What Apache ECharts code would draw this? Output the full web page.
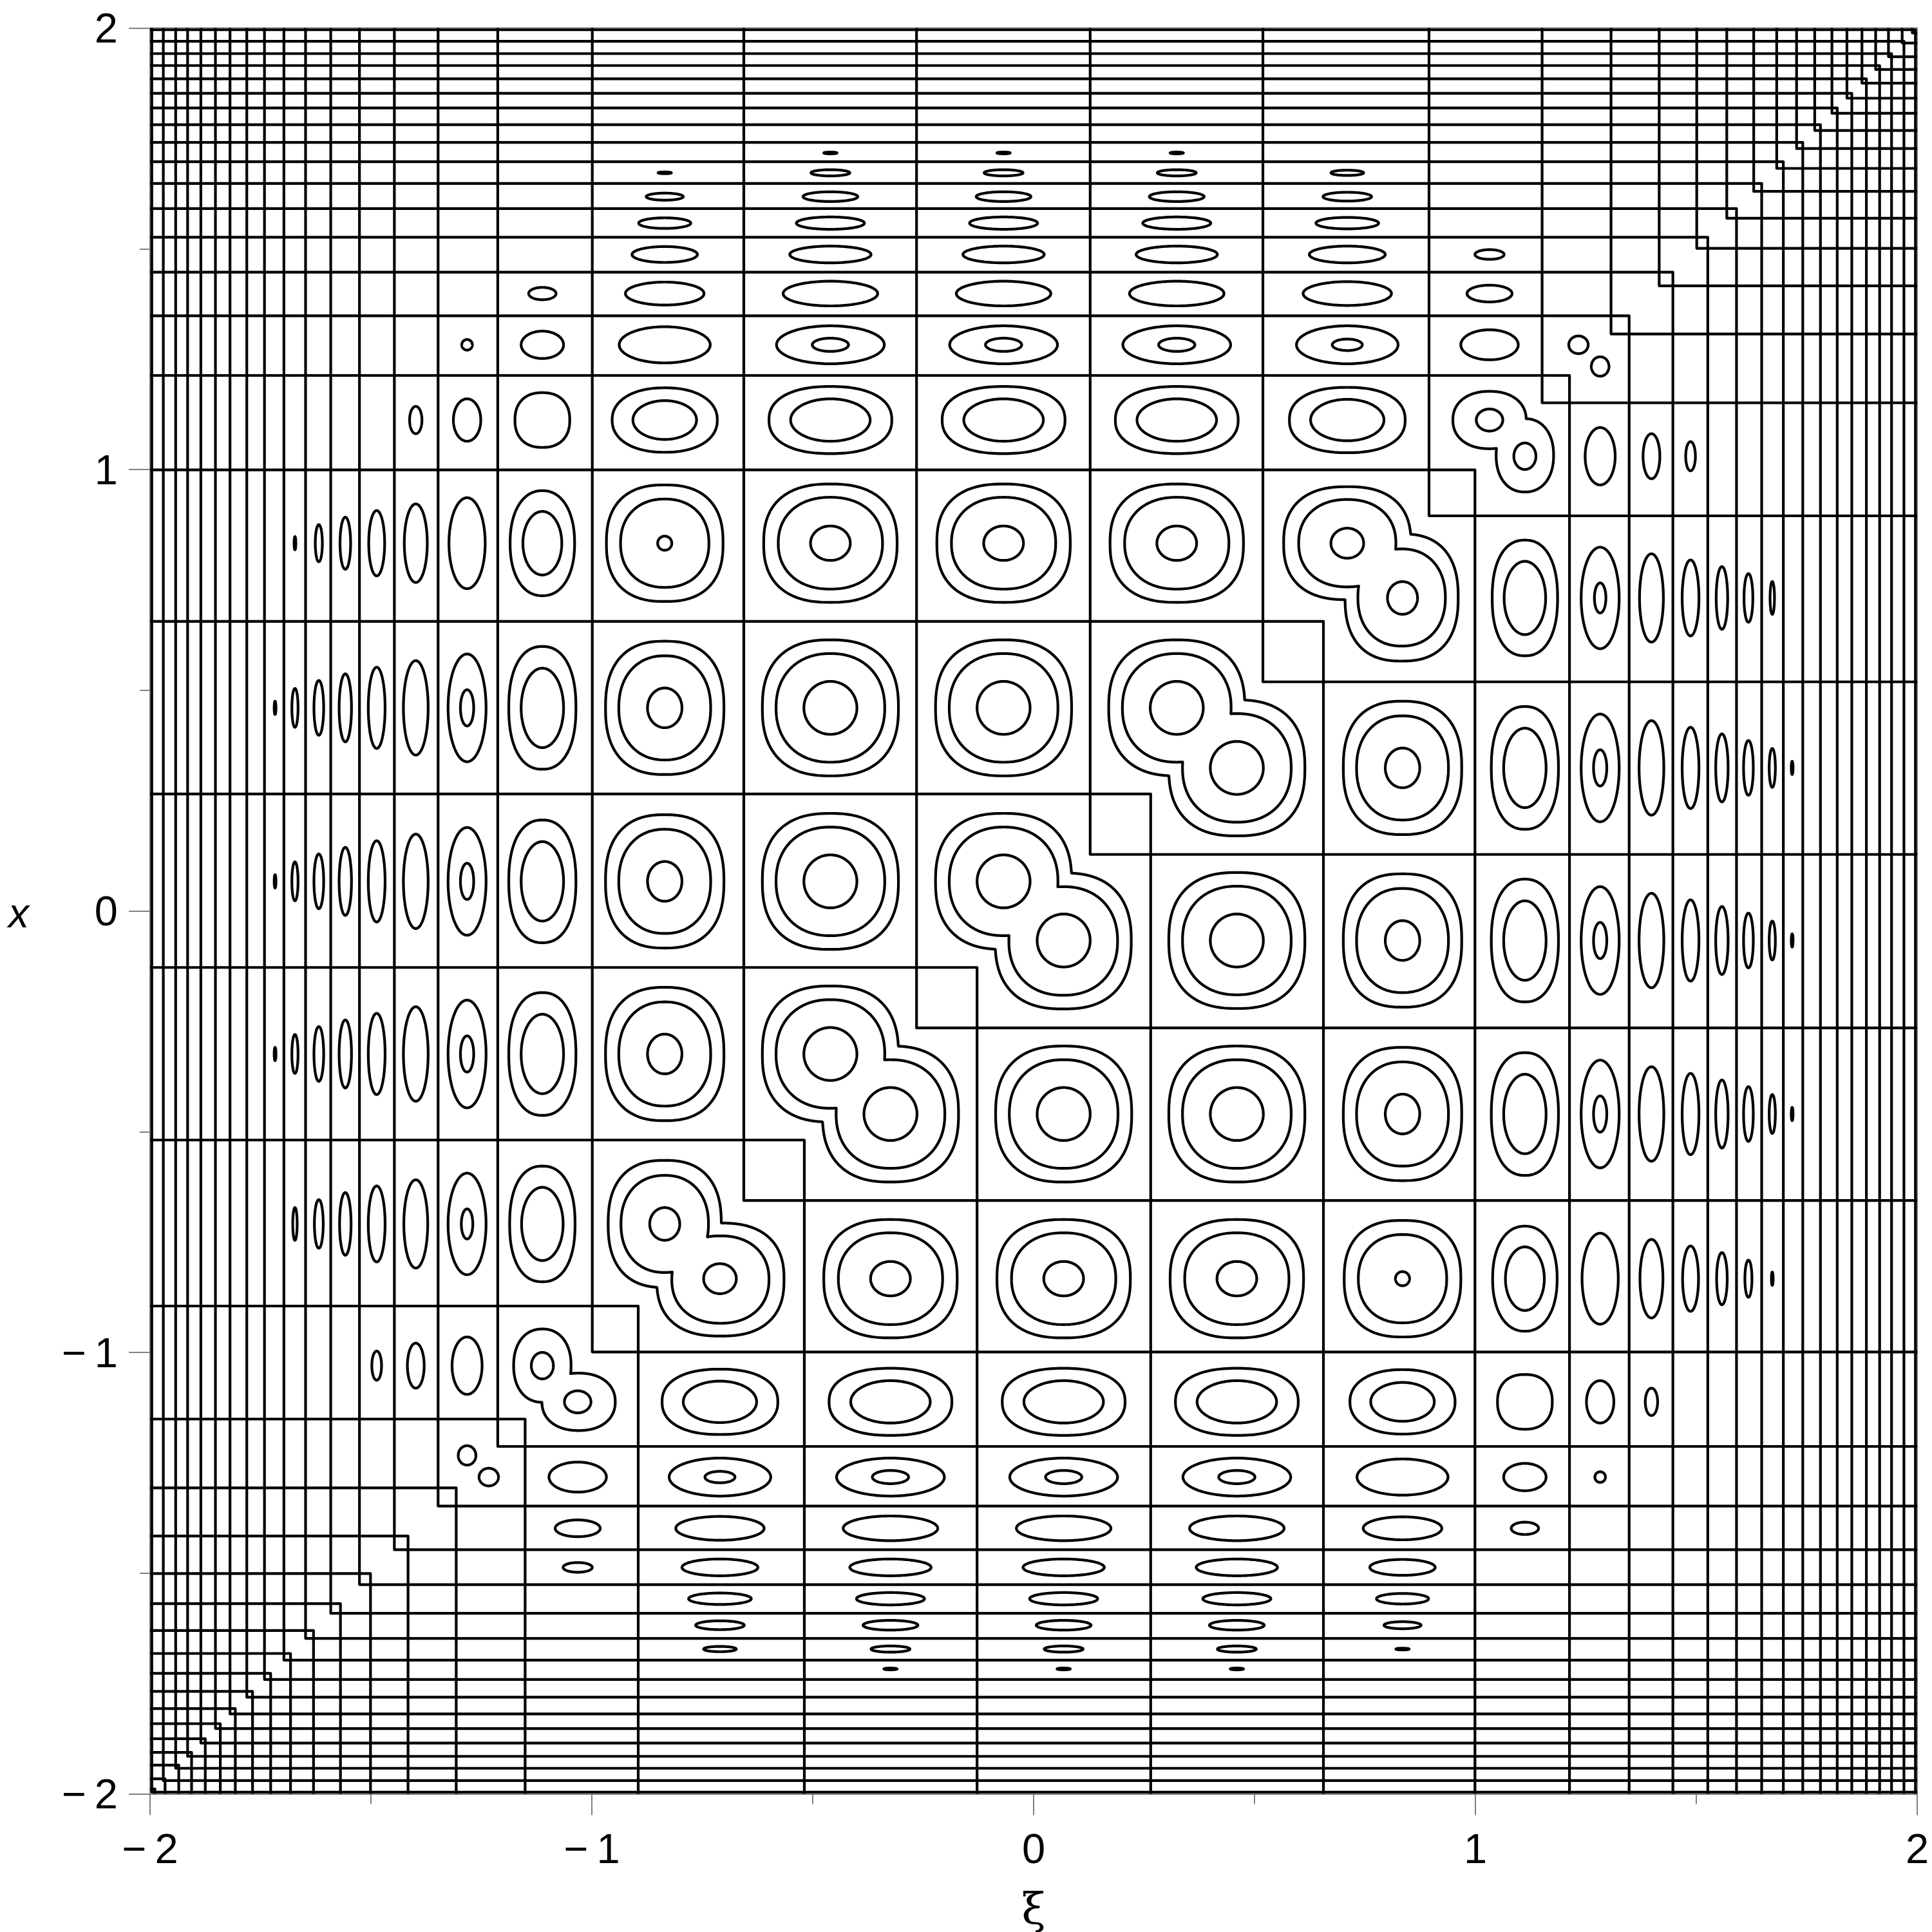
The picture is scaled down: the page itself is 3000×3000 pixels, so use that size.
<!DOCTYPE html>
<html><head><meta charset="utf-8">
<style>html,body{margin:0;padding:0;background:#fff}#c{width:3000px;height:3000px}</style>
<script src="https://cdn.jsdelivr.net/npm/echarts@6/dist/echarts.min.js"></script>
</head><body><div id="c"></div>
<script>
// Nodal L-shaped contours: value v read along both axes
const nodesA = [-1.996,-1.970,-1.942,-1.915,-1.885,-1.852,-1.819,-1.781,-1.741,-1.697,-1.648,-1.591,-1.526,-1.447,-1.348,-1.213,-0.999,-0.656,-0.265,0.128,0.519,0.895,1.151,1.307,1.416,1.501,1.569,1.630,1.682,1.727,1.768,1.807,1.841,1.875,1.906,1.935,1.966,1.989];
const nodesB = [-1.989,-1.966,-1.935,-1.906,-1.875,-1.841,-1.807,-1.768,-1.727,-1.682,-1.630,-1.569,-1.501,-1.416,-1.307,-1.151,-0.895,-0.519,-0.128,0.265,0.656,0.999,1.213,1.348,1.447,1.526,1.591,1.648,1.697,1.741,1.781,1.819,1.852,1.885,1.915,1.942,1.970,1.996];
const tickLabels = {'-2':'\u2212\u20092','-1':'\u2212\u20091','0':'0','1':'1','2':'2'};

// Closed contours of the upper-left triangle, one list per row x.
// Each entry: [xi centre, half-width in xi, half-height in x (thousandths of a unit), squareness]
const row1717 = [[-0.46,15,2],[-0.068,15,2],[0.324,15,2]];
const row1672 = [[-0.835,15,2],[-0.46,44,7],[-0.068,44,7],[0.324,44,7],[0.71,37,6]];
const row1618 = [[-0.835,42,8],[-0.46,62,11],[-0.068,62,11],[0.324,62,11],[0.71,55,10]];
const row1558 = [[-0.835,59,12],[-0.46,77,14],[-0.068,77,14],[0.324,77,14],[0.71,71,13]];
const row1487 = [[-0.835,74,18],[-0.46,92,19],[-0.068,92,19],[0.324,92,19],[0.71,86,19],[1.032,33,11]];
const row1398 = [[-1.112,31,14],[-0.835,89,26],[-0.46,107,28],[-0.068,107,28],[0.324,107,28],[0.71,100,27],[1.032,51,19]];
const row1282 = [[-1.2824,12,12],[-1.112,48,31],[-0.835,103,41],[-0.46,122,43],[-0.46,41,15],[-0.068,122,43],[-0.068,41,15],[0.324,122,43],[0.324,41,15],[0.71,115,43],[0.71,34,13],[1.032,65,34],[1.2333,22,20]];
const row1112 = [[-1.3985,14,31],[-1.2824,31,48],[-1.112,62,62,2.3],[-0.835,119,73,2.2],[-0.835,72,44],[-0.46,139,76,2.3],[-0.46,90,48],[-0.068,139,76,2.3],[-0.068,90,48],[0.324,139,76,2.3],[0.324,90,48],[0.71,131,74,2.3],[0.71,83,47],[1.032,30,25]];
const row0833 = [[-1.672,2,15],[-1.618,8,42],[-1.558,12,59],[-1.487,18,74],[-1.3985,26,89],[-1.2824,41,103],[-1.112,73,119,2.2],[-1.112,44,72],[-0.835,132,132,2.45],[-0.835,100,100,2.2],[-0.835,16,16],[-0.46,151,134,2.45],[-0.46,118,104,2.2],[-0.46,45,39],[-0.068,151,134,2.45],[-0.068,118,104,2.2],[-0.068,45,39],[0.324,151,134,2.45],[0.324,118,104,2.2],[0.324,45,39],[0.71,37,34]];
const row0460 = [[-1.717,2,15],[-1.672,7,44],[-1.618,11,62],[-1.558,14,77],[-1.487,19,92],[-1.3985,28,107],[-1.2824,43,122],[-1.2824,15,41],[-1.112,76,139,2.3],[-1.112,48,90],[-0.835,134,151,2.45],[-0.835,104,118,2.2],[-0.835,39,45],[-0.46,154,154,2.45],[-0.46,123,123,2.2],[-0.46,60,60],[-0.068,154,154,2.45],[-0.068,123,123,2.2],[-0.068,60,60],[0.324,60,60]];
const row0067 = [[-1.717,2,15],[-1.672,7,44],[-1.618,11,62],[-1.558,14,77],[-1.487,19,92],[-1.3985,28,107],[-1.2824,43,122],[-1.2824,15,41],[-1.112,76,139,2.3],[-1.112,48,90],[-0.835,134,151,2.45],[-0.835,104,118,2.2],[-0.835,39,45],[-0.46,154,154,2.45],[-0.46,123,123,2.2],[-0.46,60,60],[-0.068,60,60]];
const rowM0324 = [[-1.717,2,15],[-1.672,7,44],[-1.618,11,62],[-1.558,14,77],[-1.487,19,92],[-1.3985,28,107],[-1.2824,43,122],[-1.2824,15,41],[-1.112,76,139,2.3],[-1.112,48,90],[-0.835,134,151,2.45],[-0.835,104,118,2.2],[-0.835,39,45],[-0.46,60,60]];
const rowM0709 = [[-1.672,5,37],[-1.618,10,55],[-1.558,13,71],[-1.487,19,86],[-1.3985,27,100],[-1.2824,43,115],[-1.2824,13,34],[-1.112,74,131,2.3],[-1.112,47,83],[-0.835,34,37]];
const rowM1030 = [[-1.487,11,33],[-1.3985,19,51],[-1.2824,34,65],[-1.112,25,30]];
const rowM1233 = [[-1.2824,20,22]];
const rowValues = [1.717,1.672,1.618,1.558,1.487,1.3985,1.2824,1.112,0.833,0.46,0.067,-0.324,-0.709,-1.03,-1.2333];
const rowLists = [row1717,row1672,row1618,row1558,row1487,row1398,row1282,row1112,row0833,row0460,row0067,rowM0324,rowM0709,rowM1030,rowM1233];

// Merged two-lobe contours on the diagonal: upper-left lobe, radii, squareness.
const lobes = [
 [-0.068,0.067,154,154,2.45],[-0.068,0.067,123,123,2.2],
 [0.324,0.46,154,154,2.45],[0.324,0.46,123,123,2.2],
 [-0.46,-0.324,154,154,2.45],[-0.46,-0.324,123,123,2.2],
 [0.71,0.833,144,128,2.45],[0.71,0.833,110,99,2.2],
 [-0.835,-0.709,128,144,2.45],[-0.835,-0.709,99,110,2.2],
 [1.032,1.112,83,65,2.2],[-1.112,-1.03,65,83,2.2]
];

const ink = '#000', frame = '#808080', lw = 4.2;
const cells = [];
rowLists.forEach((list, i) => list.forEach(e => {
  const n = e[3] || 2;
  cells.push([e[0], rowValues[i], e[1]/1000, e[2]/1000, n]);
  cells.push([-e[0], -rowValues[i], e[1]/1000, e[2]/1000, n]);
}));
const peanutData = lobes.map(l => [l[0], l[1], l[2]/1000, l[3]/1000, l[4]]);

function sp(cx, cy, a, b, n, t) {
  const c = Math.cos(t), s = Math.sin(t), p = 2/n;
  return [cx + a*Math.sign(c)*Math.pow(Math.abs(c),p), cy + b*Math.sign(s)*Math.pow(Math.abs(s),p)];
}
const inside = (pt, cx, cy, a, b, n) =>
  Math.pow(Math.abs(pt[0]-cx)/a, n) + Math.pow(Math.abs(pt[1]-cy)/b, n) < 1;

const lineStyle = {stroke: ink, lineWidth: lw, fill: 'none', lineJoin: 'round'};

const series = [];
nodesA.forEach(a => series.push({type:'line', showSymbol:false, silent:true, animation:false,
  lineStyle:{color:ink,width:lw,join:'round'}, data:[[a,2],[a,a],[2,a]]}));
nodesB.forEach(b => series.push({type:'line', showSymbol:false, silent:true, animation:false,
  lineStyle:{color:ink,width:lw,join:'round'}, data:[[-2,b],[b,b],[b,-2]]}));

series.push({type:'custom', coordinateSystem:'cartesian2d', silent:true, animation:false,
  encode:{x:0,y:1}, data:cells,
  renderItem(params, api){
    const cx=api.value(0), cy=api.value(1), a=api.value(2), b=api.value(3), n=api.value(4);
    const pts=[];
    for(let k=0;k<144;k++){ pts.push(api.coord(sp(cx,cy,a,b,n,k/144*2*Math.PI))); }
    return {type:'polygon', shape:{points:pts}, style:lineStyle};
  }});

series.push({type:'custom', coordinateSystem:'cartesian2d', silent:true, animation:false,
  encode:{x:0,y:1}, data:peanutData,
  renderItem(params, api){
    const cx=api.value(0), cy=api.value(1), a=api.value(2), b=api.value(3), n=api.value(4);
    // the partner lobe is the mirror across the diagonal, with swapped radii
    const ox=cy, oy=cx, oa=b, ob=a;
    const N=1440, pts=[];
    const t1=Math.atan2(oy-cy,ox-cx);
    for(let k=0;k<N;k++){ const p=sp(cx,cy,a,b,n,t1+k/N*2*Math.PI); if(!inside(p,ox,oy,oa,ob,n)) pts.push(p); }
    const t2=Math.atan2(cy-oy,cx-ox);
    for(let k=0;k<N;k++){ const p=sp(ox,oy,oa,ob,n,t2+k/N*2*Math.PI); if(!inside(p,cx,cy,a,b,n)) pts.push(p); }
    return {type:'polygon', shape:{points:pts.map(p=>api.coord(p))}, style:lineStyle};
  }});

const axisCommon = {
  type:'value', min:-2, max:2, interval:1,
  splitLine:{show:false}, minorSplitLine:{show:false},
  axisLine:{show:true, onZero:false, lineStyle:{color:frame,width:2}},
  axisTick:{show:true, inside:false, length:33, lineStyle:{color:frame,width:2}},
  minorTick:{show:true, splitNumber:2, length:16, lineStyle:{color:frame,width:2}},
};
const labelStyle = {color:'#000', fontFamily:'Liberation Sans', fontSize:65, formatter:v=>tickLabels[String(v)]};

const chart = echarts.init(document.getElementById('c'), null, {renderer:'canvas'});
chart.setOption({
  animation:false, backgroundColor:'#fff',
  grid:{left:233, top:43.5, width:2744, height:2742, outerBoundsMode:'none', containLabel:false, show:true, borderColor:frame, borderWidth:2, backgroundColor:'transparent'},
  xAxis:Object.assign({}, axisCommon, {
    axisLabel:Object.assign({margin:57}, labelStyle),
    name:'\u03BE', nameLocation:'middle', nameGap:184,
    nameTextStyle:{color:'#000', fontFamily:'DejaVu Serif', fontSize:68, verticalAlign:'middle'}
  }),
  yAxis:Object.assign({}, axisCommon, {
    axisLabel:Object.assign({margin:50, verticalAlign:'top', lineHeight:10}, labelStyle),
    name:'x', nameLocation:'middle', nameGap:204, nameRotate:0,
    nameTextStyle:{color:'#000', fontFamily:'Liberation Sans', fontStyle:'italic', fontSize:64, align:'center', verticalAlign:'top', lineHeight:16}
  }),
  series
});
</script></body></html>
